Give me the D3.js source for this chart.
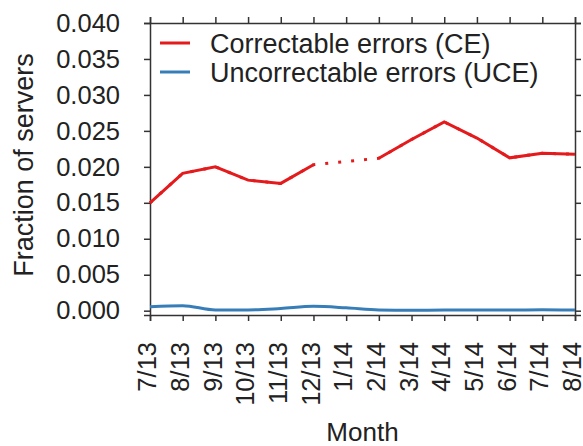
<!DOCTYPE html>
<html>
<head>
<meta charset="utf-8">
<script src="https://cdn.jsdelivr.net/npm/d3@7"></script>
<style>
  body { margin: 0; background: #fff; }
  svg { font-family: "Liberation Sans", Arial, sans-serif; }
  .axis path, .axis line { stroke: #333; stroke-width: 1.5; }
  .axis text { font-size: 25.5px; fill: #222; }
</style>
</head>
<body>
<svg width="583" height="446"></svg>
<script>
// data
const months = ["7/13", "8/13", "9/13", "10/13", "11/13", "12/13", "1/14", "2/14", "3/14", "4/14", "5/14", "6/14", "7/14", "8/14"];
const ceValues = [0.0150, 0.0191, 0.0200, 0.01815, 0.0177, 0.0203, null, 0.0212, 0.0238, 0.02625, 0.0240, 0.02125, 0.0219, 0.02175];
const uceValues = [0.00055, 0.0007, 0.0001, 0.0001, 0.0003, 0.0006, 0.0004, 0.0001, 0.00005, 0.0001, 0.0001, 0.0001, 0.00012, 0.0001];
const yTicks = [0, 0.005, 0.010, 0.015, 0.020, 0.025, 0.030, 0.035, 0.040];
const seriesNames = ["Correctable errors (CE)", "Uncorrectable errors (UCE)"];
const colors = ["#e41a1c", "#377eb8"];

const margin = { top: 23, right: 8, bottom: 131, left: 150 },
    width = 583 - margin.left - margin.right,
    height = 446 - margin.top - margin.bottom;

const x = d3.scalePoint()
    .domain(months)
    .range([0, width]);
const y = d3.scaleLinear()
    .domain([-0.0006, 0.040])
    .range([height, 0]);

const svg = d3.select("svg")
    .append("g")
    .attr("transform", "translate(" + margin.left + "," + margin.top + ")");

// axes (ticks on all four sides, pointing outwards)
svg.append("g")
    .attr("class", "axis")
    .attr("transform", "translate(0," + height + ")")
    .call(d3.axisBottom(x).tickSizeOuter(0).tickSize(6))
    .selectAll("text")
        .attr("transform", "rotate(-90)")
        .attr("x", -27)
        .attr("y", -1)
        .attr("dy", "0.26em")
        .style("text-anchor", "end");

svg.append("g")
    .attr("class", "axis")
    .call(d3.axisTop(x).tickSizeOuter(0).tickSize(6).tickFormat(""));

svg.append("g")
    .attr("class", "axis")
    .call(d3.axisLeft(y).tickValues(yTicks).tickFormat(d3.format(".3f")).tickSizeOuter(0).tickSize(6).tickPadding(24));

svg.append("g")
    .attr("class", "axis")
    .attr("transform", "translate(" + width + ",0)")
    .call(d3.axisRight(y).tickValues(yTicks).tickFormat("").tickSizeOuter(0).tickSize(6));

// lines
const ceData = months.map((m, i) => ({ m: m, v: ceValues[i] }));
const uceData = months.map((m, i) => ({ m: m, v: uceValues[i] }));

const line = d3.line()
    .defined(d => d.v !== null)
    .x(d => x(d.m))
    .y(d => y(d.v));

// dotted bridge over the missing month
svg.append("path")
    .datum(ceData.filter(d => d.v !== null))
    .attr("fill", "none")
    .attr("stroke", colors[0])
    .attr("stroke-width", 3)
    .attr("stroke-dasharray", "3,10")
    .attr("d", line);

svg.append("path")
    .datum(ceData)
    .attr("fill", "none")
    .attr("stroke", colors[0])
    .attr("stroke-width", 3)
    .attr("d", line);

svg.append("path")
    .datum(uceData)
    .attr("fill", "none")
    .attr("stroke", colors[1])
    .attr("stroke-width", 3)
    .attr("d", line.curve(d3.curveMonotoneX));

// legend
const legend = svg.append("g")
    .attr("transform", "translate(10,20)");
seriesNames.forEach((name, i) => {
    legend.append("line")
        .attr("x1", 0).attr("x2", 30)
        .attr("y1", i * 29).attr("y2", i * 29)
        .attr("stroke", colors[i])
        .attr("stroke-width", 3);
    legend.append("text")
        .attr("x", 50)
        .attr("y", i * 29)
        .attr("dy", "0.36em")
        .style("font-size", "27px")
        .style("fill", "#222")
        .text(name);
});

// axis titles
svg.append("text")
    .attr("transform", "rotate(-90)")
    .attr("x", -142)
    .attr("y", -117)
    .style("text-anchor", "middle")
    .style("font-size", "27px")
    .style("fill", "#222")
    .text("Fraction of servers");

svg.append("text")
    .attr("x", width / 2)
    .attr("y", height + 126)
    .style("text-anchor", "middle")
    .style("font-size", "26px")
    .style("fill", "#222")
    .text("Month");
</script>
</body>
</html>
